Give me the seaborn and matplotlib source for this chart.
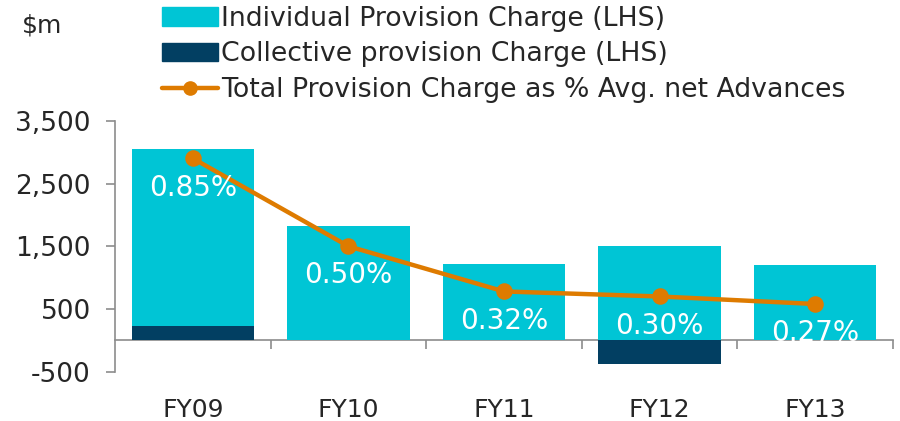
#!/usr/bin/env python3
import numpy as np
import matplotlib
matplotlib.use("Agg")
import matplotlib.pyplot as plt
from matplotlib.patches import Patch
from matplotlib.lines import Line2D
import seaborn as sns

# data ($m and %)
years = ["FY09", "FY10", "FY11", "FY12", "FY13"]
individual = [2820, 1817, 1216, 1498, 1195]
collective = [234, 0, 0, -371, 0]
pct_adv = [0.85, 0.50, 0.32, 0.30, 0.27]
pct_labels = ["0.85%", "0.50%", "0.32%", "0.30%", "0.27%"]
y_ticks = [-500, 500, 1500, 2500, 3500]

CYAN = "#00c5d5"
NAVY = "#023f62"
ORANGE = "#de7b00"
GREY = "#8c8c8c"

sns.set_style("white")
plt.rcParams["font.family"] = ["DejaVu Sans"]

fig = plt.figure(figsize=(9, 4.21), dpi=100)
ax = fig.add_axes([0.128, 0.117, 0.864, 0.596])

# individual sits on top of the positive part of the collective charge
ind_top = np.array(individual) + np.clip(collective, 0, None)
sns.barplot(x=years, y=ind_top, color=CYAN, width=0.79, saturation=1,
            linewidth=0, ax=ax)
sns.barplot(x=years, y=collective, color=NAVY, width=0.79, saturation=1,
            linewidth=0, ax=ax)

ax.set_ylim(-500, 3500)
ax.set_xlim(-0.5, 4.5)
ax.set_yticks(y_ticks, labels=[f"{v:,}" for v in y_ticks])
ax.set_ylabel("")
ax.tick_params(axis="y", labelsize=19, length=6.5, width=1.2, color=GREY,
               direction="out", left=True, pad=11)
ax.tick_params(axis="x", labelsize=18, length=0, pad=19)
for s in ["top", "right", "bottom"]:
    ax.spines[s].set_visible(False)
ax.spines["left"].set_color(GREY)
ax.spines["left"].set_linewidth(1.2)

# zero line with category boundary ticks
zero_pos = (0 - (-500)) / 4000
sec = ax.secondary_xaxis(zero_pos)
sec.set_xticks(np.arange(0.5, 5, 1))
sec.tick_params(length=6.5, width=1.2, color=GREY, direction="out", labelbottom=False)
sec.spines["bottom"].set_color(GREY)
sec.spines["bottom"].set_linewidth(1.2)

# percentage line on a hidden right axis
ax2 = ax.twinx()
sns.pointplot(x=years, y=pct_adv, color=ORANGE, markers="o", markersize=9.5,
              linewidth=3.2, errorbar=None, ax=ax2)
ax2.set_ylim(0, 1.0)
ax2.set_xlim(-0.5, 4.5)
ax2.axis("off")

for i, (p, lab) in enumerate(zip(pct_adv, pct_labels)):
    ax2.annotate(lab, (i, p), xytext=(0, -21), textcoords="offset points",
                 ha="center", va="center", color="white", fontsize=20)

handles = [Patch(color=CYAN), Patch(color=NAVY),
           Line2D([], [], color=ORANGE, lw=3.2, marker="o", markersize=9.5)]
labels = ["Individual Provision Charge (LHS)", "Collective provision Charge (LHS)",
          "Total Provision Charge as % Avg. net Advances"]
fig.legend(handles, labels, loc="upper left", bbox_to_anchor=(0.168, 1.012),
           frameon=False, fontsize=19.3, handlelength=2.1, handletextpad=0.1,
           labelspacing=0.36, borderaxespad=0)

fig.text(0.024, 0.94, "$m", fontsize=18, va="center", ha="left")

fig.savefig("out.png", dpi=100)
